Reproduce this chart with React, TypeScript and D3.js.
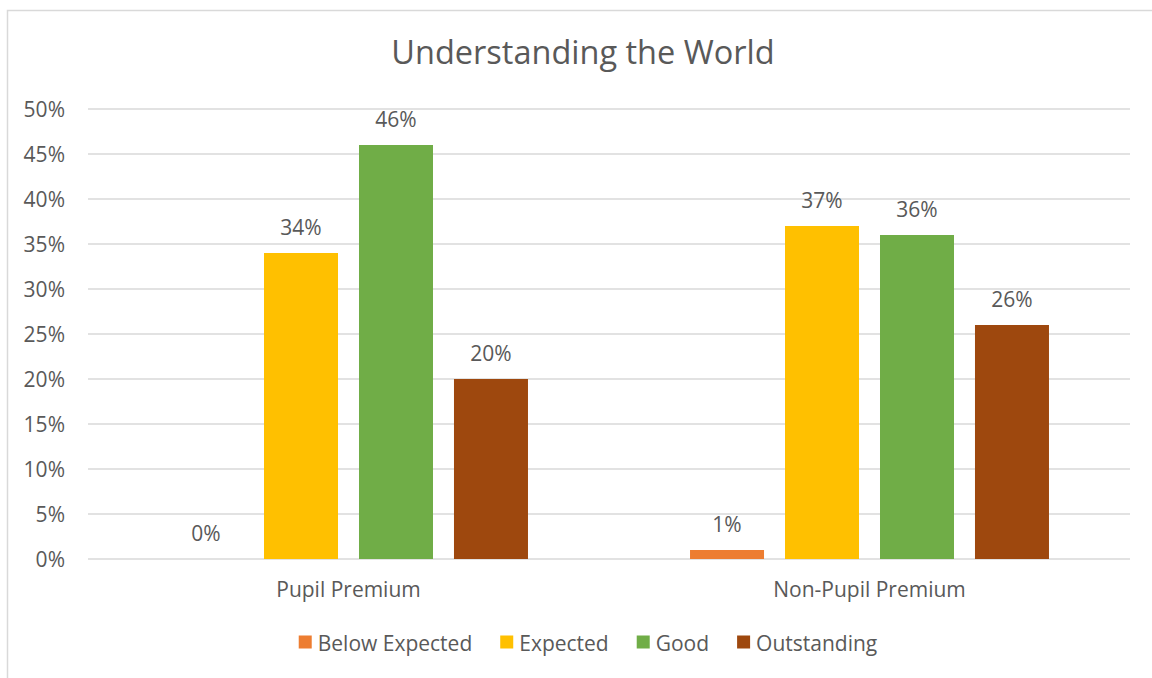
import React from "react";
import * as d3 from "d3";

const categories = ["Pupil Premium", "Non-Pupil Premium"];
const seriesNames = ["Below Expected", "Expected", "Good", "Outstanding"];
const seriesColors = ["#ED7D31", "#FFC000", "#70AD47", "#9E480E"];
const belowExpected = [0, 1];
const expected = [34, 37];
const good = [46, 36];
const outstanding = [20, 26];
const yTicks = [0, 5, 10, 15, 20, 25, 30, 35, 40, 45, 50];
const title = "Understanding the World";

const seriesValues = [belowExpected, expected, good, outstanding];

const W = 1152;
const H = 678;
const FONT = "'Open Sans', sans-serif";
const TEXT = "#595959";

export default function App() {
  const left = 88;
  const right = 1130;
  const top = 109;
  const bottom = 559;

  const x0 = d3.scaleBand<string>().domain(categories).range([left, right]).paddingInner(0).paddingOuter(0);
  const x1 = d3
    .scaleBand<string>()
    .domain(seriesNames)
    .range([0, x0.bandwidth()])
    .paddingInner(0.221)
    .paddingOuter(0.853);
  const y = d3.scaleLinear().domain([0, 50]).range([bottom, top]);

  const fs = 21;
  const legendFont = 21;
  const charW = (s: string) => {
    if (typeof document === "undefined") return s.length * 10;
    const c = document.createElement("canvas").getContext("2d")!;
    c.font = `${legendFont}px 'Open Sans'`;
    return c.measureText(s).width;
  };
  const sq = 13;
  const gapSqText = 6;
  const itemGap = 28;
  const widths = seriesNames.map((s) => sq + gapSqText + charW(s));
  const totalW = d3.sum(widths) + itemGap * (seriesNames.length - 1);
  const legendCenter = 588;
  let lx = legendCenter - totalW / 2;
  const legendItems = seriesNames.map((s, i) => {
    const xx = lx;
    lx += widths[i] + itemGap;
    return { s, i, x: xx };
  });
  const legendY = 643;

  return (
    <svg width={W} height={H} style={{ position: "absolute", left: 0, top: 0, background: "#fff" }}>
      <rect x={0} y={0} width={W} height={H} fill="#fff" />
      <path d={`M7.5,${H} V10.5 H${W}`} fill="none" stroke="#D9D9D9" strokeWidth={1.5} />
      <text x={583} y={64} textAnchor="middle" fontFamily={FONT} fontSize={32.5} fill={TEXT}>
        {title}
      </text>
      {yTicks.map((t) => (
        <g key={t}>
          <line x1={left} x2={right} y1={y(t)} y2={y(t)} stroke="#D9D9D9" strokeWidth={1.5} />
          <text x={65} y={y(t) + 7.5} textAnchor="end" fontFamily={FONT} fontSize={fs} fill={TEXT}>
            {t}%
          </text>
        </g>
      ))}
      {categories.map((c, ci) => (
        <g key={c} transform={`translate(${x0(c)},0)`}>
          {seriesNames.map((s, si) => {
            const v = seriesValues[si][ci];
            const bx = x1(s)!;
            return (
              <g key={s}>
                <rect x={bx} y={y(v)} width={x1.bandwidth()} height={bottom - y(v)} fill={seriesColors[si]} />
                <text
                  x={bx + x1.bandwidth() / 2}
                  y={y(v) - 18}
                  textAnchor="middle"
                  fontFamily={FONT}
                  fontSize={fs}
                  fill={TEXT}
                >
                  {v}%
                </text>
              </g>
            );
          })}
          <text x={x0.bandwidth() / 2} y={597} textAnchor="middle" fontFamily={FONT} fontSize={fs} fill={TEXT}>
            {c}
          </text>
        </g>
      ))}
      {legendItems.map(({ s, i, x }) => (
        <g key={s}>
          <rect x={x} y={legendY - sq / 2 - 1} width={sq} height={sq} fill={seriesColors[i]} />
          <text x={x + sq + gapSqText} y={legendY + 7.5} fontFamily={FONT} fontSize={legendFont} fill={TEXT}>
            {s}
          </text>
        </g>
      ))}
    </svg>
  );
}
